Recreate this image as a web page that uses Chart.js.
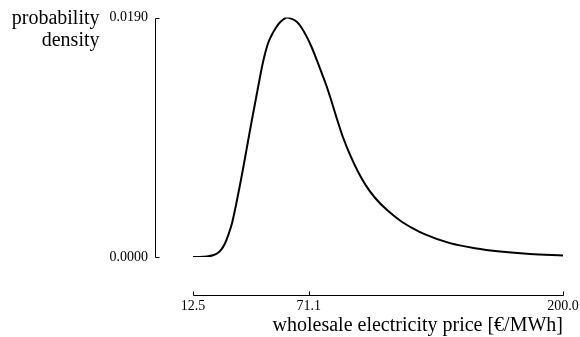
<!DOCTYPE html>
<html>
<head>
<meta charset="utf-8">
<script src="https://cdn.jsdelivr.net/npm/chart.js@4/dist/chart.umd.min.js"></script>
<style>
html,body{margin:0;padding:0;background:#fff;}
#wrap{width:580px;height:337px;position:relative;}
</style>
</head>
<body>
<div id="wrap"><canvas id="c" width="580" height="337"></canvas></div>
<script>
// ---- data ----
const priceValues = [12.5, 16.0, 19.6, 22.6, 24.7, 26.7, 28.7, 30.4, 32.3, 34.3, 36.7, 38.85, 42.25, 45.4, 48.1, 50.5, 52.4, 54.6, 56.6, 58.6, 60.1, 62.2, 65.1, 67.6, 70.1, 72.7, 75.2, 77.7, 80.3, 82.8, 85.3, 88.5, 92.1, 96.0, 100.0, 104.7, 111.0, 117.4, 123.7, 130.1, 142.7, 155.4, 168.1, 183.3, 200.0];
const densityValues = [0, 0, 0.00004, 0.000135, 0.00028, 0.00056, 0.00107, 0.00175, 0.00270, 0.00413, 0.00603, 0.00785, 0.01079, 0.01341, 0.01555, 0.01694, 0.01761, 0.01821, 0.01862, 0.01888, 0.01900, 0.01891, 0.01866, 0.01817, 0.01748, 0.01662, 0.01563, 0.01460, 0.01351, 0.01230, 0.01103, 0.00950, 0.00810, 0.00680, 0.00570, 0.00470, 0.00370, 0.00290, 0.00230, 0.00180, 0.00110, 0.00070, 0.00044, 0.00024, 0.00012];
const xTickValues = [12.5, 71.1, 200.0];
const yTickValues = [0, 0.0190];
const xTitle = 'wholesale electricity price [€/MWh]';
const yTitleLines = ['probability', 'density'];

const points = priceValues.map((p, i) => ({x: p, y: densityValues[i]}));
const serif = '"Liberation Serif", "Times New Roman", serif';

const customAxes = {
  id: 'customAxes',
  afterDraw(chart) {
    const {ctx, scales: {x, y}} = chart;
    ctx.save();
    ctx.strokeStyle = '#000';
    ctx.lineWidth = 1;
    // y axis line with end ticks pointing right
    const ax = 155.5;
    const yTop = Math.round(y.getPixelForValue(yTickValues[yTickValues.length - 1])) + 0.5;
    const yBot = Math.round(y.getPixelForValue(yTickValues[0])) + 0.5;
    ctx.beginPath();
    ctx.moveTo(ax + 4, yTop); ctx.lineTo(ax, yTop);
    ctx.lineTo(ax, yBot); ctx.lineTo(ax + 4, yBot);
    ctx.stroke();
    // x axis line, offset below the plot, with upward ticks
    const ay = 295.5;
    const x0 = Math.round(x.getPixelForValue(x.min)) + 0.5;
    const x1 = Math.round(x.getPixelForValue(x.max)) + 0.5;
    ctx.beginPath();
    ctx.moveTo(x0, ay); ctx.lineTo(x1, ay);
    xTickValues.forEach(v => {
      const px = Math.round(x.getPixelForValue(v)) + 0.5;
      ctx.moveTo(px, ay); ctx.lineTo(px, ay - 4);
    });
    ctx.stroke();
    // y title (two lines, right aligned)
    ctx.fillStyle = '#000';
    ctx.font = '20px ' + serif;
    ctx.textAlign = 'right';
    ctx.textBaseline = 'alphabetic';
    ctx.fillText(yTitleLines[0], 99.5, 24);
    ctx.fillText(yTitleLines[1], 99.5, 45.5);
    ctx.restore();
  }
};

new Chart(document.getElementById('c'), {
  type: 'line',
  data: {
    datasets: [{
      data: points,
      borderColor: '#000',
      borderWidth: 2,
      pointRadius: 0,
      fill: false,
      cubicInterpolationMode: 'monotone'
    }]
  },
  options: {
    responsive: false,
    animation: false,
    devicePixelRatio: 1,
    layout: {padding: {top: 17.5, right: 17, bottom: 0, left: 0}},
    plugins: {legend: {display: false}, tooltip: {enabled: false}},
    scales: {
      x: {
        type: 'linear',
        min: 12.5,
        max: 200,
        grid: {display: false, drawTicks: true, tickLength: 41},
        border: {display: false},
        afterBuildTicks: s => { s.ticks = xTickValues.map(v => ({value: v})); },
        afterFit: s => { s.height = 80; },
        ticks: {
          color: '#000',
          padding: 0,
          maxRotation: 0,
          autoSkip: false,
          font: {family: serif, size: 14},
          callback: v => Number(v).toFixed(1)
        },
        title: {
          display: true,
          text: xTitle,
          align: 'end',
          color: '#000',
          padding: {top: 0, bottom: 0},
          font: {family: serif, size: 20, lineHeight: 1.1}
        }
      },
      y: {
        type: 'linear',
        min: 0,
        max: 0.0190,
        grid: {display: false, drawTicks: true, tickLength: 45},
        border: {display: false},
        afterBuildTicks: s => { s.ticks = yTickValues.map(v => ({value: v})); },
        afterFit: s => { s.width = 193; },
        ticks: {
          color: '#000',
          padding: 0,
          autoSkip: false,
          font: {family: serif, size: 14},
          callback: v => Number(v).toFixed(4)
        }
      }
    }
  },
  plugins: [customAxes]
});
</script>
</body>
</html>
